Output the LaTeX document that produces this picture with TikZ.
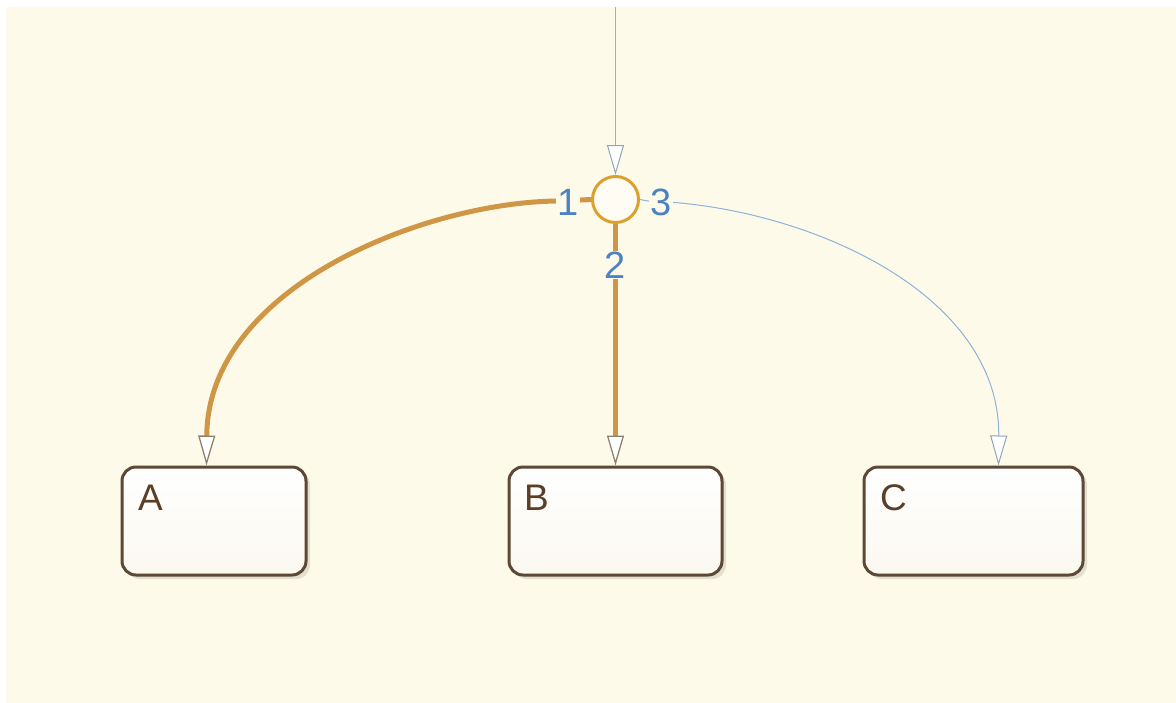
\documentclass[tikz,border=0pt]{standalone}
\usepackage{fontspec}
\setmainfont{Liberation Sans}
\usetikzlibrary{arrows.meta,shadows,calc}
\definecolor{bgcream}{HTML}{FEFAE9}
\definecolor{statebrd}{HTML}{5C4834}
\definecolor{statetxt}{HTML}{5A3E28}
\definecolor{lblblue}{HTML}{4A82C2}
\definecolor{lineblue}{HTML}{8DB3DA}
\definecolor{tipblue}{HTML}{8AA6C0}
\definecolor{orangeln}{HTML}{CF9745}
\definecolor{tipbrown}{HTML}{8C8272}
\definecolor{juncbrd}{HTML}{D9A22E}
\definecolor{statebot}{HTML}{FBF8EF}
\tikzset{
  statebox/.style={draw=statebrd, line width=3pt, rounded corners=14pt,
    top color=white, bottom color=statebot,
    drop shadow={shadow xshift=4pt, shadow yshift=-4pt, opacity=0.10, fill=black},
    inner sep=0pt},
  statelbl/.style={text=statetxt, font=\fontsize{37}{40}\selectfont, inner sep=0pt, anchor=base west},
  tlabel/.style={text=lblblue, font=\fontsize{38}{40}\selectfont, fill=bgcream, inner sep=1pt},
  junction/.style={circle, draw=juncbrd, line width=3pt, fill=bgcream!50!white, minimum size=46pt, inner sep=0pt},
  bluetr/.style={draw=lineblue, line width=1pt,
    -{Triangle[length=30pt, width=17pt, color=tipblue, fill=white, line width=1pt]}},
  orangetr/.style={draw=orangeln, line width=5pt,
    -{Triangle[length=30pt, width=17pt, color=tipbrown, fill=white, line width=1.3pt]}},
}
\begin{document}
\begin{tikzpicture}[x=1pt,y=-1pt]
\useasboundingbox (0,0) rectangle (1176,702);
\fill[white] (0,0) rectangle (1176,702);
\fill[bgcream] (6,7) rectangle (1180,706);

% states
\node[statebox, minimum width=184pt, minimum height=108pt] (A) at (214,521) {};
\node[statebox, minimum width=213pt, minimum height=108pt] (B) at (615.5,521) {};
\node[statebox, minimum width=219pt, minimum height=108pt] (C) at (973.5,521) {};
\node[statelbl] (Al) at (138,510) {A};
\node[statelbl] (Bl) at (524,510) {B};
\node[statelbl] (Cl) at (880,510) {C};

% junction
\node[junction] (J) at (615.5,199.5) {};
\coordinate (top) at (615.5,7);

% transitions
\draw[bluetr] (top) -- (J.north);
\draw[orangetr] (J.west) -- (560,201) .. controls (430,201) and (208,285) .. ([xshift=86pt]A.north west);
\draw[orangetr] (J.south) -- (B.north);
\draw[bluetr] (J.east) -- (648,201) .. controls (800,205) and (1000,290) .. ([xshift=136pt]C.north west);

% transition labels
\node[tlabel] (l1) at (568,202) {1};
\node[tlabel] (l2) at (615.5,265) {2};
\node[tlabel] (l3) at (661,202) {3};
\end{tikzpicture}
\end{document}
